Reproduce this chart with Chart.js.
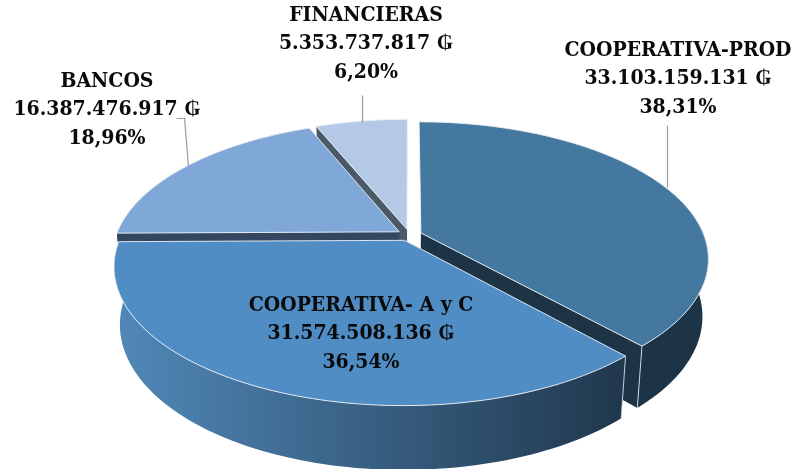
<!DOCTYPE html>
<html><head><meta charset="utf-8">
<style>html,body{margin:0;padding:0;background:#fff}canvas{display:block}</style>
<script src="https://cdn.jsdelivr.net/npm/chart.js@4"></script>
</head><body><canvas id="c" width="797" height="469"></canvas>
<script>
const categories = ["COOPERATIVA-PROD","COOPERATIVA- A y C","BANCOS","FINANCIERAS"];
const amounts = [33103159131,31574508136,16387476917,5353737817];
const amountLabels = ["33.103.159.131 ₲","31.574.508.136 ₲","16.387.476.917 ₲","5.353.737.817 ₲"];
const percentLabels = ["38,31%","36,54%","18,96%","6,20%"];
const topColors = ["#44789f","#4f8dc4","#7fa8d8","#b4c9e5"];
const wallLeft = ["#1d3346","#5088b8","#33475f","#4a5a68"];
const wallRight = ["#1d3346","#20374c","#33475f","#4a5a68"];
const drawOrder = [3,2,0,1];
const labelPlace = [[678,50],[361,305],[107,81],[366,15]];
const leaders = [[[667,125],[667,187]],[],[[176,118],[184,118],[188,166]],[[362,95],[362,122]]];

const P = {cx:409.4, cy:235, A:283, B:132.4, a:0.1855};
function proj(u,v){const s=1/(1-P.a*v);return [P.cx+P.A*u*s,P.cy+P.B*v*s];}
function base(p,v){return [P.cx+(p[0]-P.cx)*0.98,p[1]+56+8*v];}
function path(ctx,list){ctx.beginPath();list.forEach((p,k)=>k?ctx.lineTo(p[0],p[1]):ctx.moveTo(p[0],p[1]));ctx.closePath();}

const pie3d = {
  id:'pie3d',
  beforeDatasetDraw(chart,args){
    const ctx=chart.ctx, els=chart.getDatasetMeta(0).data;
    drawOrder.forEach(i=>{
      const el=els[i], R=el.outerRadius, e=(el.options.offset||0)/R;
      const mid=(el.startAngle+el.endAngle)/2;
      const ou=e*Math.cos(mid), ov=e*Math.sin(mid);
      const pts=[[ou,ov]], n=Math.max(8,Math.round((el.endAngle-el.startAngle)*40));
      for(let k=0;k<=n;k++){
        const t=el.startAngle+(el.endAngle-el.startAngle)*k/n;
        pts.push([ou+Math.cos(t),ov+Math.sin(t)]);
      }
      const tops=pts.map(p=>proj(p[0],p[1]));
      const bots=tops.map((p,k)=>base(p,pts[k][1]));
      const last=pts.length-1;
      const g=ctx.createLinearGradient(118,0,625,0);
      g.addColorStop(0,wallLeft[i]);g.addColorStop(1,wallRight[i]);
      ctx.fillStyle=g;
      // the two cut faces (skipped when they point straight away from the viewer),
      // then the front part of the curved outer wall as one shape
      [1,last].forEach(k=>{
        if(pts[k][1]>-0.97){path(ctx,[tops[0],tops[k],bots[k],bots[0]]);ctx.fill();}
      });
      const a=pts.findIndex((p,k)=>k>0&&p[1]>-0.35);
      if(a>0){path(ctx,tops.slice(a).concat(bots.slice(a).reverse()));ctx.fill();}
      // light seam on the front corners
      ctx.strokeStyle='rgba(225,233,240,0.85)';ctx.lineWidth=1;
      [1,last].forEach(k=>{
        if(pts[k][1]>0.1){ctx.beginPath();ctx.moveTo(...tops[k]);ctx.lineTo(...bots[k]);ctx.stroke();}
      });
      path(ctx,tops);
      ctx.fillStyle=el.options.backgroundColor;ctx.fill();
      ctx.strokeStyle='rgba(236,241,247,0.9)';ctx.lineWidth=1;ctx.stroke();
    });
    return false;
  },
  afterDraw(chart){
    const ctx=chart.ctx;
    ctx.save();
    ctx.strokeStyle='#9c9c9c';ctx.lineWidth=1.2;
    leaders.forEach(l=>{if(!l.length)return;ctx.beginPath();l.forEach((p,k)=>k?ctx.lineTo(p[0]+.5,p[1]+.5):ctx.moveTo(p[0]+.5,p[1]+.5));ctx.stroke();});
    ctx.fillStyle='#0a0a0a';ctx.textAlign='center';ctx.textBaseline='middle';
    ctx.font='bold 21px "DejaVu Serif Condensed","DejaVu Serif",serif';
    categories.forEach((c,i)=>{
      const [x,y]=labelPlace[i];
      ctx.fillText(c,x,y+0.5);ctx.fillText(amountLabels[i],x,y+29);ctx.fillText(percentLabels[i],x,y+57.5);
    });
    ctx.restore();
  }
};

new Chart(document.getElementById('c'),{
  type:'pie',
  data:{labels:categories,datasets:[{data:amounts,backgroundColor:topColors,borderWidth:0,offset:10}]},
  options:{responsive:false,animation:false,rotation:0,
    plugins:{legend:{display:false},tooltip:{enabled:false}}},
  plugins:[pie3d]
});
</script></body></html>
